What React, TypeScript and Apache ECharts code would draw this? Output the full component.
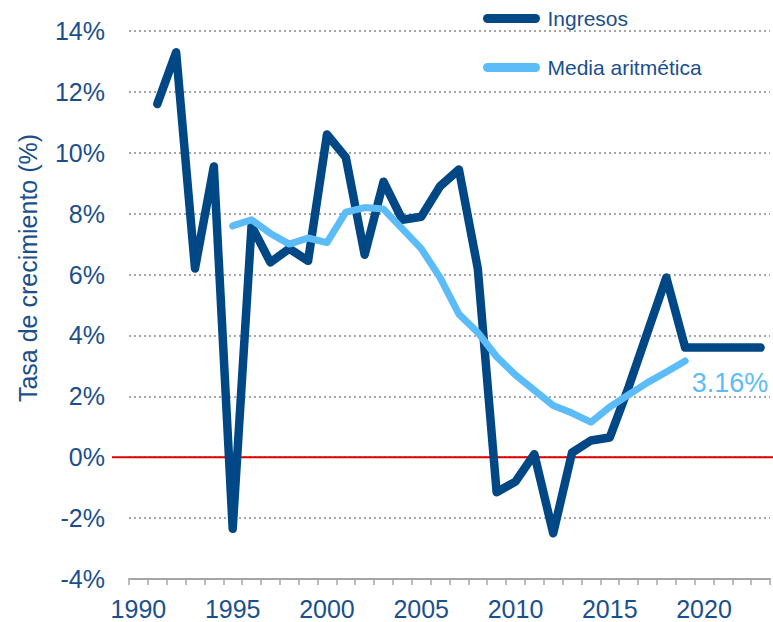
import React, { useEffect, useRef } from "react";
import * as echarts from "echarts";

const years = [
  "1990", "1991", "1992", "1993", "1994", "1995", "1996", "1997", "1998", "1999",
  "2000", "2001", "2002", "2003", "2004", "2005", "2006", "2007", "2008", "2009",
  "2010", "2011", "2012", "2013", "2014", "2015", "2016", "2017", "2018", "2019",
  "2020", "2021", "2022", "2023",
];

const ingresos: (number | null)[] = [
  null, 11.6, 13.3, 6.2, 9.55, -2.35, 7.6, 6.4, 6.85, 6.45,
  10.6, 9.85, 6.65, 9.05, 7.8, 7.9, 8.9, 9.45, 6.2, -1.15,
  -0.8, 0.1, -2.5, 0.15, 0.55, 0.65, 2.3, 4.1, 5.9, 3.6,
  3.6, 3.6, 3.6, 3.6,
];

const media: (number | null)[] = [
  null, null, null, null, null, 7.6, 7.8, 7.35, 7.0, 7.2,
  7.05, 8.05, 8.2, 8.15, 7.5, 6.85, 5.9, 4.7, 4.1, 3.3,
  2.7, 2.2, 1.7, 1.45, 1.15, 1.65, 2.05, 2.45, 2.8, 3.16,
  null, null, null, null,
];

const yTicks = { min: -4, max: 14, interval: 2 };
const endIndex = 29;
const endLabelText = "3.16%";

const DARK = "#004785";
const LIGHT = "#5cbcf8";
const TEXT = "#1a4f8c";
const FONT = "Liberation Sans, Arial, sans-serif";

export default function App() {
  const ref = useRef<HTMLDivElement>(null);
  useEffect(() => {
    if (!ref.current) return;
    const chart = echarts.init(ref.current, undefined, { renderer: "svg" });
    const roundIcon = "path://M4.5,0 H52.5 A4.5,4.5 0 0 1 52.5,9 H4.5 A4.5,4.5 0 0 1 4.5,0 Z";
    chart.setOption({
      animation: false,
      textStyle: { fontFamily: FONT },
      grid: { left: 129, right: 3, top: 31, bottom: 43 },
      legend: {
        orient: "vertical",
        left: 483,
        top: 8,
        padding: 0,
        itemWidth: 58,
        itemHeight: 9,
        itemGap: 28,
        textStyle: { color: TEXT, fontSize: 21, fontFamily: FONT, padding: [0, 0, 0, 2] },
        data: [
          { name: "Ingresos", icon: roundIcon, itemStyle: { color: DARK } },
          { name: "Media aritmética", icon: roundIcon, itemStyle: { color: LIGHT } },
        ],
      },
      xAxis: {
        type: "category",
        data: years,
        boundaryGap: true,
        axisLine: { onZero: false, lineStyle: { color: "#a6a6a6", width: 2 } },
        axisTick: { show: true, interval: 0, length: 6, lineStyle: { color: "#a6a6a6", width: 1.5 } },
        axisLabel: { interval: 4, color: TEXT, fontSize: 25, margin: 17, fontFamily: FONT },
        splitLine: { show: false },
      },
      yAxis: {
        type: "value",
        min: yTicks.min,
        max: yTicks.max,
        interval: yTicks.interval,
        axisLine: { show: false },
        axisTick: { show: false },
        axisLabel: { formatter: "{value}%", color: TEXT, fontSize: 25, margin: 24, fontFamily: FONT },
        splitLine: { lineStyle: { color: "#a6a6a6", type: [2, 3], width: 2 } },
      },
      series: [
        {
          name: "Ingresos",
          type: "line",
          data: ingresos,
          showSymbol: false,
          symbol: "none",
          color: DARK,
          lineStyle: { color: DARK, width: 8.5, cap: "round", join: "round" },
          z: 3,
        },
        {
          name: "Media aritmética",
          type: "line",
          data: media,
          showSymbol: false,
          symbol: "none",
          color: LIGHT,
          lineStyle: { color: LIGHT, width: 7, cap: "round", join: "round" },
          z: 4,
          markPoint: {
            symbol: "circle",
            symbolSize: 1,
            itemStyle: { color: "rgba(0,0,0,0)" },
            data: [
              {
                coord: [years[endIndex], media[endIndex]],
                label: {
                  show: true,
                  position: "right",
                  distance: 5,
                  offset: [1, 22],
                  formatter: endLabelText,
                  color: LIGHT,
                  fontSize: 27,
                  fontFamily: FONT,
                },
              },
            ],
          },
        },
      ],
    });
    const y0 = chart.convertToPixel({ yAxisIndex: 0 }, 0) as number;
    chart.setOption({
      graphic: [
        {
          type: "line",
          shape: { x1: 112, y1: y0, x2: 773, y2: y0 },
          style: { stroke: "#e00000", lineWidth: 2 },
          z: 2,
        },
        {
          type: "text",
          x: 28,
          y: 268,
          rotation: Math.PI / 2,
          style: {
            text: "Tasa de crecimiento (%)",
            fill: TEXT,
            fontSize: 25,
            fontFamily: FONT,
            align: "center",
            verticalAlign: "middle",
          },
        },
      ],
    });
    return () => chart.dispose();
  }, []);
  return (
    <div
      ref={ref}
      style={{ position: "absolute", left: 0, top: 0, width: 773, height: 622 }}
    />
  );
}
